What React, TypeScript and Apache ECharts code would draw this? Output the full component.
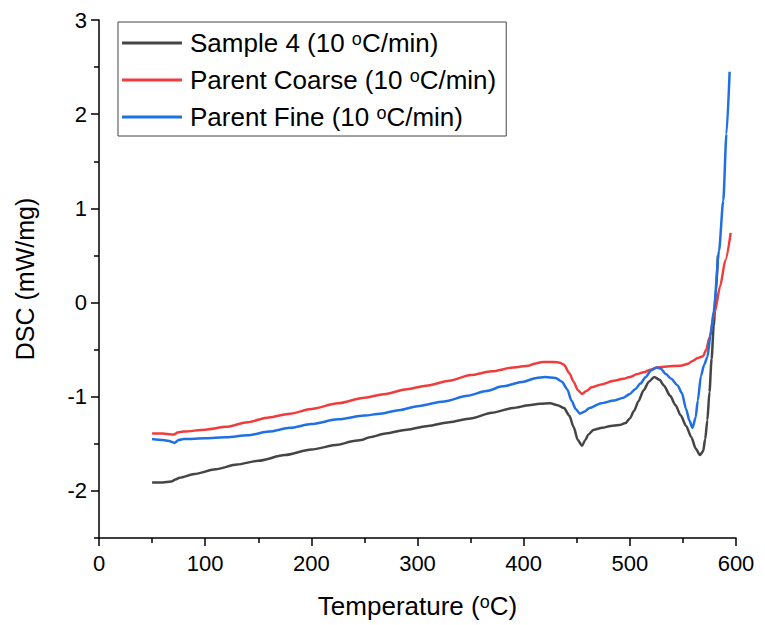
import React, { useEffect, useRef } from "react";
import * as echarts from "echarts";

// [Temperature (°C), DSC (mW/mg)]
const sample4: [number, number][] = [
  [50, -1.91], [60, -1.91], [68, -1.9], [72, -1.88], [76, -1.86], [90, -1.82],
  [110, -1.77], [130, -1.72], [150, -1.68], [175, -1.62], [200, -1.56], [225, -1.51],
  [240, -1.47], [247, -1.46], [255, -1.43], [270, -1.39], [290, -1.35], [310, -1.31],
  [330, -1.27], [350, -1.23], [370, -1.17], [390, -1.12], [405, -1.09], [415, -1.075],
  [425, -1.07], [432, -1.09], [438, -1.12], [443, -1.2], [447, -1.32], [451, -1.46],
  [455, -1.52], [458, -1.46], [461, -1.4], [466, -1.35], [474, -1.33], [482, -1.31],
  [490, -1.3], [496, -1.28], [500, -1.23], [504, -1.15], [508, -1.05], [513, -0.93],
  [518, -0.84], [523, -0.79], [528, -0.82], [532, -0.88], [538, -0.99], [543, -1.09],
  [548, -1.2], [553, -1.31], [558, -1.43], [562, -1.55], [566, -1.62], [569, -1.58],
  [571, -1.45], [573, -1.25], [575, -0.95], [577, -0.6], [579, -0.25], [581, 0.1], [583, 0.5],
];

const parentCoarse: [number, number][] = [
  [50, -1.39], [60, -1.39], [68, -1.4], [71, -1.4], [74, -1.38], [80, -1.37],
  [100, -1.35], [120, -1.32], [140, -1.27], [160, -1.22], [180, -1.18], [200, -1.13],
  [225, -1.07], [250, -1.01], [270, -0.97], [290, -0.92], [310, -0.88], [330, -0.83],
  [350, -0.77], [370, -0.73], [390, -0.69], [405, -0.67], [410, -0.65], [418, -0.63],
  [428, -0.63], [434, -0.64], [438, -0.66], [443, -0.75], [447, -0.84], [451, -0.93],
  [455, -0.97], [459, -0.94], [464, -0.9], [473, -0.87], [485, -0.83], [494, -0.81],
  [500, -0.79], [507, -0.76], [513, -0.74], [520, -0.71], [526, -0.69], [535, -0.68],
  [548, -0.67], [555, -0.65], [559, -0.62], [564, -0.59], [569, -0.57], [572, -0.5],
  [575, -0.37], [580, -0.1], [585, 0.17], [590, 0.45], [595, 0.74],
];

const parentFine: [number, number][] = [
  [50, -1.45], [60, -1.46], [66, -1.47], [71, -1.49], [75, -1.46], [80, -1.45],
  [100, -1.44], [120, -1.43], [140, -1.41], [160, -1.37], [180, -1.33], [200, -1.29],
  [225, -1.24], [250, -1.2], [265, -1.18], [284, -1.14], [300, -1.1], [325, -1.05],
  [347, -0.99], [365, -0.94], [380, -0.89], [400, -0.84], [412, -0.8], [420, -0.79],
  [430, -0.8], [436, -0.84], [441, -0.92], [445, -1.04], [449, -1.13], [453, -1.18],
  [457, -1.16], [462, -1.12], [473, -1.07], [485, -1.04], [494, -1.01], [500, -0.97],
  [505, -0.92], [510, -0.86], [515, -0.79], [520, -0.72], [525, -0.69], [529, -0.7],
  [534, -0.76], [539, -0.81], [545, -0.88], [549, -0.96], [553, -1.13], [556, -1.25],
  [559, -1.33], [562, -1.22], [564, -1.04], [567, -0.78], [570, -0.66], [573, -0.58],
  [576, -0.35], [579, -0.09], [584, 0.55], [588, 1.08], [591, 1.79], [594, 2.45],
];

const seriesNames = [
  "Sample 4 (10 °C/min)",
  "Parent Coarse (10 °C/min)",
  "Parent Fine (10 °C/min)",
];
const seriesColors = ["#454545", "#f03c3c", "#1f6fe5"];

const xTicks = [0, 100, 200, 300, 400, 500, 600];
const yMajorTicks = [-2, -1, 0, 1, 2, 3];
const yMinorTicks = [-2.5, -1.5, -0.5, 0.5, 1.5, 2.5];

const FONT = "Arial, 'Liberation Sans', sans-serif";

export default function App() {
  const ref = useRef<HTMLDivElement>(null);

  useEffect(() => {
    if (!ref.current) return;
    const chart = echarts.init(ref.current, undefined, { renderer: "svg" });
    const sup = { fontSize: 18, verticalAlign: "top", lineHeight: 5, fontFamily: FONT, color: "#000" };
    const datasets = [sample4, parentCoarse, parentFine];
    chart.setOption({
      animation: false,
      backgroundColor: "#fff",
      textStyle: { fontFamily: FONT },
      grid: { left: 99, right: 29, top: 20, bottom: 87, containLabel: false, outerBoundsMode: "none" },
      legend: {
        orient: "vertical",
        left: 118,
        top: 22,
        padding: [8, 10, 6, 4],
        itemGap: 11,
        itemWidth: 60,
        itemHeight: 3,
        icon: "rect",
        borderColor: "#444",
        borderWidth: 1,
        borderRadius: 0,
        data: seriesNames,
        formatter: (name: string) => name.replace(" °C", " {sup|o}C"),
        textStyle: {
          fontSize: 26,
          fontFamily: FONT,
          color: "#000",
          lineHeight: 26,
          padding: [0, 0, 0, 3],
          rich: { sup },
        },
      },
      xAxis: {
        type: "value",
        min: 0,
        max: 600,
        interval: 100,
        name: "Temperature ({sup|o}C)",
        nameLocation: "middle",
        nameGap: 55,
        nameTextStyle: {
          fontSize: 26,
          fontFamily: FONT,
          color: "#000",
          lineHeight: 26,
          rich: { sup },
        },
        axisLine: { onZero: false, lineStyle: { color: "#000", width: 1.5 } },
        axisTick: { show: true, inside: false, length: 8, lineStyle: { color: "#000", width: 1.5 } },
        minorTick: { show: true, splitNumber: 2, length: 5, lineStyle: { color: "#000", width: 1.5 } },
        axisLabel: { fontSize: 22, color: "#000", margin: 14, fontFamily: FONT, customValues: xTicks },
        splitLine: { show: false },
        minorSplitLine: { show: false },
      },
      yAxis: [
        {
          type: "value",
          min: -2.5,
          max: 3,
          position: "left",
          name: "DSC (mW/mg)",
          nameLocation: "middle",
          nameGap: 62,
          nameTextStyle: { fontSize: 25, fontFamily: FONT, color: "#000" },
          axisLine: { show: true, onZero: false, lineStyle: { color: "#000", width: 1.5 } },
          axisTick: { show: true, inside: false, length: 8, customValues: yMajorTicks, lineStyle: { color: "#000", width: 1.5 } },
          axisLabel: { fontSize: 22, color: "#000", margin: 12, fontFamily: FONT, customValues: yMajorTicks },
          splitLine: { show: false },
        },
        {
          type: "value",
          min: -2.5,
          max: 3,
          position: "left",
          axisLine: { show: false, onZero: false },
          axisTick: { show: true, inside: false, length: 5, customValues: yMinorTicks, lineStyle: { color: "#000", width: 1.5 } },
          axisLabel: { show: false },
          splitLine: { show: false },
        },
      ],
      series: datasets.map((d, i) => ({
        name: seriesNames[i],
        type: "line",
        data: d,
        yAxisIndex: 0,
        symbol: "none",
        smooth: 0.25,
        smoothMonotone: "x",
        color: seriesColors[i],
        lineStyle: { color: seriesColors[i], width: 2.5 },
        z: 2 + i,
      })),
    });
    return () => chart.dispose();
  }, []);

  return (
    <div
      ref={ref}
      style={{ position: "fixed", left: 0, top: 0, width: 765, height: 625, background: "#fff" }}
    />
  );
}
